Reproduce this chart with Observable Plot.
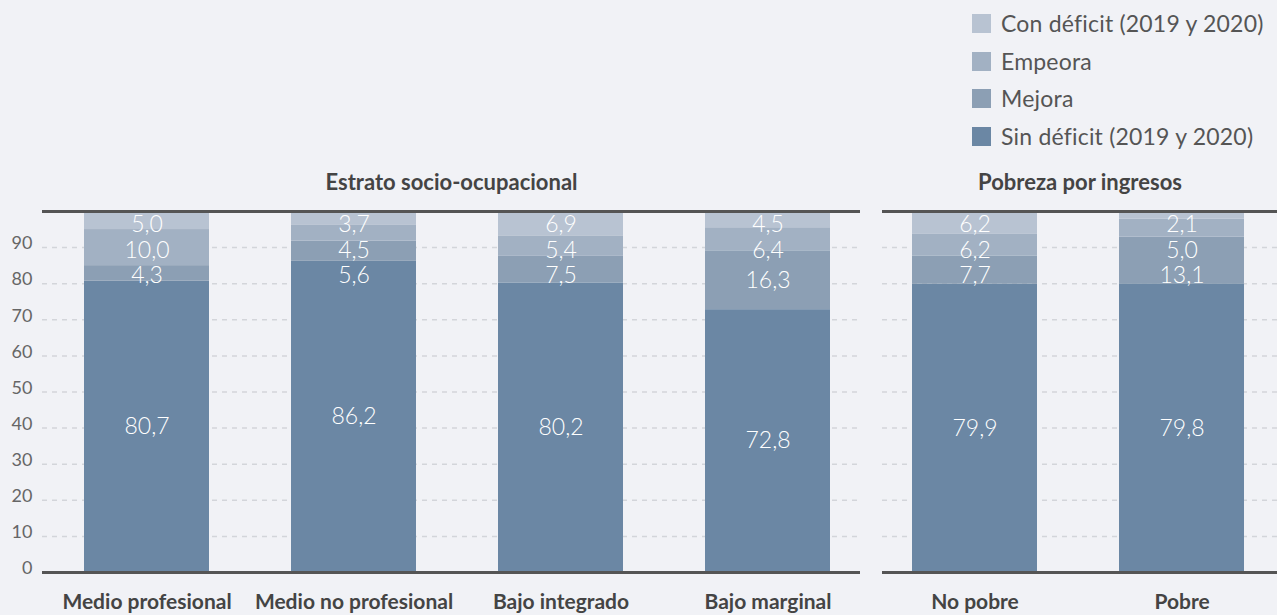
<!DOCTYPE html>
<html>
<head>
<meta charset="utf-8">
<script src="https://cdn.jsdelivr.net/npm/d3@7"></script>
<script src="https://cdn.jsdelivr.net/npm/@observablehq/plot@0.6"></script>
<style>
  html, body { margin: 0; padding: 0; background: #f1f2f6; }
  #chart { position: relative; width: 1277px; height: 615px; background: #f1f2f6; font-family: Lato, sans-serif; overflow: hidden; }
  #left { position: absolute; left: 0; top: 160px; }
  #right { position: absolute; left: 860px; top: 160px; }
  #legend { position: absolute; left: 972px; top: 14px; }
  .item { display: flex; align-items: center; height: 19px; line-height: 19px; margin-bottom: 18.5px; font-size: 23px; letter-spacing: 0.2px; color: #555; white-space: nowrap; }
  .sw { width: 19px; height: 19px; margin-right: 10px; flex: none; }
</style>
</head>
<body>
<div id="chart">
  <div id="legend"></div>
  <div id="left"></div>
  <div id="right"></div>
</div>
<script>
const categoriesLeft = ["Medio profesional", "Medio no profesional", "Bajo integrado", "Bajo marginal"];
const categoriesRight = ["No pobre", "Pobre"];
const categories = categoriesLeft.concat(categoriesRight);
const series = ["Sin déficit (2019 y 2020)", "Mejora", "Empeora", "Con déficit (2019 y 2020)"];
const colors = ["#6b87a4", "#8c9fb4", "#a2b1c3", "#b8c3d2"];
const sinDeficit = [80.7, 86.2, 80.2, 72.8, 79.9, 79.8];
const mejora     = [4.3, 5.6, 7.5, 16.3, 7.7, 13.1];
const empeora    = [10.0, 4.5, 5.4, 6.4, 6.2, 5.0];
const conDeficit = [5.0, 3.7, 6.9, 4.5, 6.2, 2.1];
const yTicks = [0, 10, 20, 30, 40, 50, 60, 70, 80, 90];
const gridTicks = [10, 20, 30, 40, 50, 60, 70, 80, 90];
const panelTitles = ["Estrato socio-ocupacional", "Pobreza por ingresos"];

const valuesBySeries = [sinDeficit, mejora, empeora, conDeficit];
const data = [];
const labels = [];
// label positions: segment midpoints, nudged apart (top-down) so small segments do not collide
const labelTopMax = 96.3, labelGap = 7;
categories.forEach((c, i) => {
  let base = 0;
  const mids = series.map((s, j) => {
    const v = valuesBySeries[j][i];
    data.push({cat: c, serie: s, value: v});
    const m = base + v / 2;
    base += v;
    return m;
  });
  const pos = mids.slice();
  for (let j = series.length - 1; j >= 0; j--) {
    const limit = j === series.length - 1 ? labelTopMax : pos[j + 1] - labelGap;
    pos[j] = Math.min(mids[j], limit);
  }
  series.forEach((s, j) => labels.push({cat: c, serie: s, value: valuesBySeries[j][i], ly: pos[j]}));
});
const fmt = v => d3.format(".1f")(v).replace(".", ",");

function panel(cats, opts) {
  const d = data.filter(r => cats.includes(r.cat));
  const l = labels.filter(r => cats.includes(r.cat));
  const marks = [
    Plot.ruleY(gridTicks, {stroke: "#d3d5da", strokeDasharray: "5,5", strokeWidth: 1.5}),
    Plot.barY(d, {x: "cat", y: "value", fill: "serie", order: series}),
    Plot.text(l, {x: "cat", y: "ly", text: r => fmt(r.value), fill: "white", fontSize: 23, fontWeight: 300}),
    Plot.ruleY([0, 100], {stroke: "#555", strokeWidth: 3}),
    Plot.axisX({tickSize: 0, tickPadding: 22, fontSize: 21, fontWeight: "bold", fill: "#444", label: null, style: {letterSpacing: "0.3px"}}),
    Plot.text([opts.title], {frameAnchor: "top", lineAnchor: "middle", dy: -28.5, fontSize: 22, fontWeight: "bold", fill: "#444", style: {letterSpacing: "0.8px"}})
  ];
  if (opts.yAxis) {
    marks.push(Plot.axisY({ticks: yTicks, tickSize: 0, tickPadding: 10, fontSize: 18, fill: "#666", dy: -4, label: null, tickFormat: t => String(t)}));
  }
  return Plot.plot({
    width: opts.width, height: 455,
    marginTop: 51, marginBottom: 43, marginLeft: opts.marginLeft, marginRight: 0,
    style: {background: "transparent", fontFamily: "Lato, sans-serif", overflow: "visible"},
    x: {domain: cats, paddingInner: 0.397, paddingOuter: opts.po, align: opts.align, label: null, axis: null},
    y: {domain: [0, 100], label: null, axis: null},
    color: {domain: series, range: colors},
    marks
  });
}

document.getElementById("left").appendChild(panel(categoriesLeft, {width: 860, marginLeft: 42, po: 0.173, align: 0.58, title: panelTitles[0], yAxis: true}));
document.getElementById("right").appendChild(panel(categoriesRight, {width: 417, marginLeft: 22, po: 0.15, align: 0.48, title: panelTitles[1], yAxis: false}));

const legend = document.getElementById("legend");
series.slice().reverse().forEach((s, i) => {
  const c = colors[series.length - 1 - i];
  const item = document.createElement("div");
  item.className = "item";
  item.innerHTML = `<span class="sw" style="background:${c}"></span><span>${s}</span>`;
  legend.appendChild(item);
});
</script>
</body>
</html>
